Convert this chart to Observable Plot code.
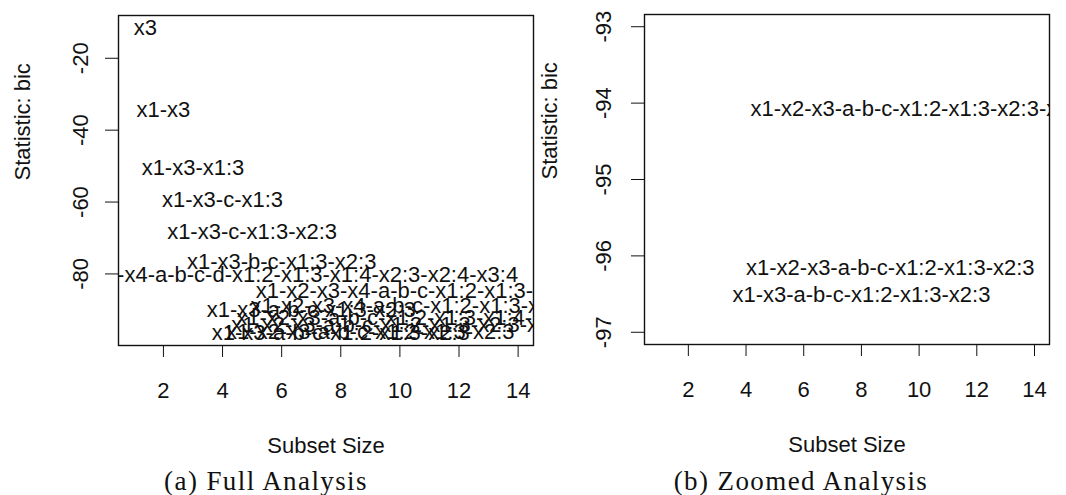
<!DOCTYPE html>
<html><head><meta charset="utf-8">
<script src="https://cdn.jsdelivr.net/npm/d3@7"></script>
<script src="https://cdn.jsdelivr.net/npm/@observablehq/plot@0.6"></script>
<style>
body{margin:0;background:#fff;}
#wrap{position:relative;width:1066px;height:495px;overflow:hidden;background:#fff;}
.panel{position:absolute;top:0;}
.cap{position:absolute;top:468px;font-family:"Liberation Serif","Times New Roman",serif;font-size:27px;line-height:27px;letter-spacing:1.4px;transform:translateX(-50%);white-space:nowrap;color:#111;}
</style></head><body>
<div id="wrap">
  <div id="pa" class="panel" style="left:0px"></div>
  <div id="pb" class="panel" style="left:530px"></div>
  <div class="cap" style="left:266px">(a) Full Analysis</div>
  <div class="cap" style="left:801px">(b) Zoomed Analysis</div>
</div>
<script>
// ---- data ----
const subsetSize = [1, 2, 3, 4, 5, 6, 7, 8, 9, 10, 11, 12, 13, 14];
const bicValues = [-11.5, -34.4, -50.6, -59.4, -68.3, -76.7, -90.0, -96.51, -96.16, -94.08, -92.2, -88.9, -84.7, -80.3];
const subsetLabels = [
  "x3",
  "x1-x3",
  "x1-x3-x1:3",
  "x1-x3-c-x1:3",
  "x1-x3-c-x1:3-x2:3",
  "x1-x3-b-c-x1:3-x2:3",
  "x1-x3-a-b-c-x1:3-x2:3",
  "x1-x3-a-b-c-x1:2-x1:3-x2:3",
  "x1-x2-x3-a-b-c-x1:2-x1:3-x2:3",
  "x1-x2-x3-a-b-c-x1:2-x1:3-x2:3-x2:4",
  "x1-x2-x3-a-b-c-x1:2-x1:3-x1:4-x2:3-x2:4",
  "x1-x2-x3-x4-a-b-c-x1:2-x1:3-x1:4-x2:3-x2:4",
  "x1-x2-x3-x4-a-b-c-x1:2-x1:3-x1:4-x2:3-x2:4-x3:4",
  "x1-x2-x3-x4-a-b-c-d-x1:2-x1:3-x1:4-x2:3-x2:4-x3:4"
];
const xTicks = [2, 4, 6, 8, 10, 12, 14];
const yTicksFull = [-20, -40, -60, -80];
const yTicksZoom = [-93, -94, -95, -96, -97];
const zoomLimits = [-97, -93];
const xLabel = "Subset Size";
const yLabel = "Statistic: bic";

const rows = subsetSize.map((s, i) => ({size: s, bic: bicValues[i], label: subsetLabels[i]}));
const minSize = d3.min(subsetSize), maxSize = d3.max(subsetSize);
const pad = ([lo, hi]) => [lo - 0.04 * (hi - lo), hi + 0.04 * (hi - lo)];

const FONT = "'Liberation Sans', Arial, Helvetica, sans-serif";
const FS = 22;

function panel({yDomain, yTicks, marginLeft, marginRight, marginTop, width, yTickDx, yLabelDx}) {
  const height = 460;
  const marginBottom = height - 330 - marginTop;
  const inView = rows.filter(d => d.bic >= yDomain[0] && d.bic <= yDomain[1]);
  return Plot.plot({
    width, height, marginLeft, marginRight, marginTop, marginBottom,
    x: {domain: pad([minSize, maxSize])},
    y: {domain: yDomain},
    style: {fontFamily: FONT, fontSize: FS + "px", color: "#111", background: "transparent", overflow: "visible"},
    marks: [
      Plot.axisX(xTicks, {tickSize: 12, tickPadding: 25, fontSize: FS, label: null, tickFormat: d => String(d)}),
      Plot.axisY(yTicks, {tickSize: 13, label: null, tickFormat: () => ""}),
      Plot.text(yTicks, {y: d => d, text: d => String(d), frameAnchor: "left", rotate: -90, dx: yTickDx, fontSize: FS, textAnchor: "middle", lineAnchor: "middle"}),
      Plot.text([xLabel], {text: d => d, frameAnchor: "bottom", dy: 100, fontSize: FS, lineAnchor: "middle"}),
      Plot.text([yLabel], {text: d => d, frameAnchor: "left", rotate: -90, dx: yLabelDx, fontSize: FS, lineAnchor: "middle"}),
      Plot.text(inView, {filter: d => d.size === minSize, x: "size", y: "bic", text: "label", textAnchor: "start", lineAnchor: "middle", fontSize: FS, fill: "#111", clip: true}),
      Plot.text(inView, {filter: d => d.size !== minSize && d.size !== maxSize, x: "size", y: "bic", text: "label", textAnchor: "middle", lineAnchor: "middle", fontSize: FS, fill: "#111", clip: true}),
      Plot.text(inView, {filter: d => d.size === maxSize, x: "size", y: "bic", text: "label", textAnchor: "end", lineAnchor: "middle", fontSize: FS, fill: "#111", clip: true}),
      Plot.frame({stroke: "#111", strokeWidth: 1.4})
    ]
  });
}

document.getElementById("pa").append(panel({
  yDomain: pad(d3.extent(bicValues)), yTicks: yTicksFull,
  marginLeft: 118, marginRight: 7, marginTop: 15, width: 540, yTickDx: -38, yLabelDx: -96
}));
document.getElementById("pb").append(panel({
  yDomain: pad(zoomLimits), yTicks: yTicksZoom,
  marginLeft: 114, marginRight: 17, marginTop: 14, width: 536, yTickDx: -41, yLabelDx: -95
}));
</script>
</body></html>
